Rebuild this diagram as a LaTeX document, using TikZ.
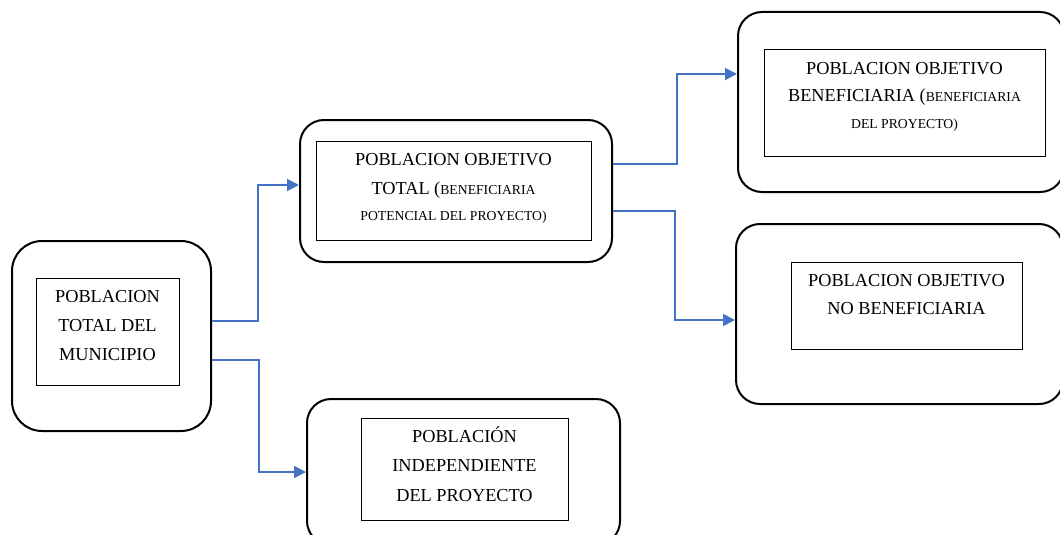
\documentclass[tikz,border=0pt]{standalone}
\usepackage{fontspec}
\setmainfont{Liberation Serif}
\usetikzlibrary{arrows.meta}
\definecolor{conblue}{HTML}{4472C4}
\newcommand\smcap[1]{{\fontsize{13.7}{27}\selectfont #1}}
\begin{document}
\begin{tikzpicture}[x=1pt,y=-1pt,
  outerbox/.style={draw=black, line width=2pt, rounded corners=24pt, inner sep=0pt},
  innerbox/.style={draw=black, line width=0.9pt, inner sep=0pt},
  boxtext/.style={anchor=north, align=center, inner sep=0pt, font=\fontsize{18.3}{29}\selectfont},
  conn/.style={draw=conblue, line width=1.9pt, -{Triangle[length=12pt,width=12pt]}}]
\useasboundingbox (0,0) rectangle (1060,535);
\clip (0,0) rectangle (1060,535);

% outer rounded boxes
\node[outerbox, rounded corners=30pt, minimum width=199pt, minimum height=190pt] (A) at (111.5,336) {};
\node[outerbox, minimum width=312pt, minimum height=142pt] (B) at (456,191) {};
\node[outerbox, minimum width=326pt, minimum height=180pt] (C) at (901,102) {};
\node[outerbox, minimum width=327pt, minimum height=180pt] (D) at (899.5,314) {};
\node[outerbox, minimum width=313pt, minimum height=146pt] (E) at (463.5,472) {};

% inner rectangles
\node[innerbox, minimum width=143pt, minimum height=107pt] (Ai) at (107.5,331.5) {};
\node[innerbox, minimum width=275pt, minimum height=99pt] (Bi) at (453.5,190.5) {};
\node[innerbox, minimum width=281pt, minimum height=107pt] (Ci) at (904.5,102.5) {};
\node[innerbox, minimum width=231pt, minimum height=87pt] (Di) at (906.5,305.5) {};
\node[innerbox, minimum width=207pt, minimum height=102pt] (Ei) at (464.5,469) {};

% texts
\node[boxtext] (At) at (107.5,285) {\rule{0pt}{17pt}POBLACION\\TOTAL DEL\\MUNICIPIO};
\node[boxtext] (Bt) at (453.5,148) {\rule{0pt}{17pt}POBLACION OBJETIVO\\TOTAL (\smcap{BENEFICIARIA}\\[-3pt]\smcap{POTENCIAL DEL PROYECTO)}};
\node[boxtext, font=\fontsize{18.3}{27}\selectfont] (Ct) at (904.5,57) {\rule{0pt}{17pt}POBLACION OBJETIVO\\BENEFICIARIA (\smcap{BENEFICIARIA}\\\smcap{DEL PROYECTO)}};
\node[boxtext, font=\fontsize{18.3}{28}\selectfont] (Dt) at (906.5,269) {\rule{0pt}{17pt}POBLACION OBJETIVO\\NO BENEFICIARIA};
\node[boxtext, font=\fontsize{18.3}{29.5}\selectfont] (Et) at (464.5,425) {\rule{0pt}{17pt}POBLACIÓN\\INDEPENDIENTE\\DEL PROYECTO};

% connectors
\draw[conn] ([yshift=15pt]A.east) -- ++(46,0) |- ([yshift=6pt]B.west);
\draw[conn] ([yshift=-24pt]A.east) -- ++(47,0) |- (E.west);
\draw[conn] ([yshift=27pt]B.east) -- ++(64,0) |- ([yshift=28pt]C.west);
\draw[conn] ([yshift=-20pt]B.east) -- ++(62,0) |- ([yshift=-6pt]D.west);
\end{tikzpicture}
\end{document}
